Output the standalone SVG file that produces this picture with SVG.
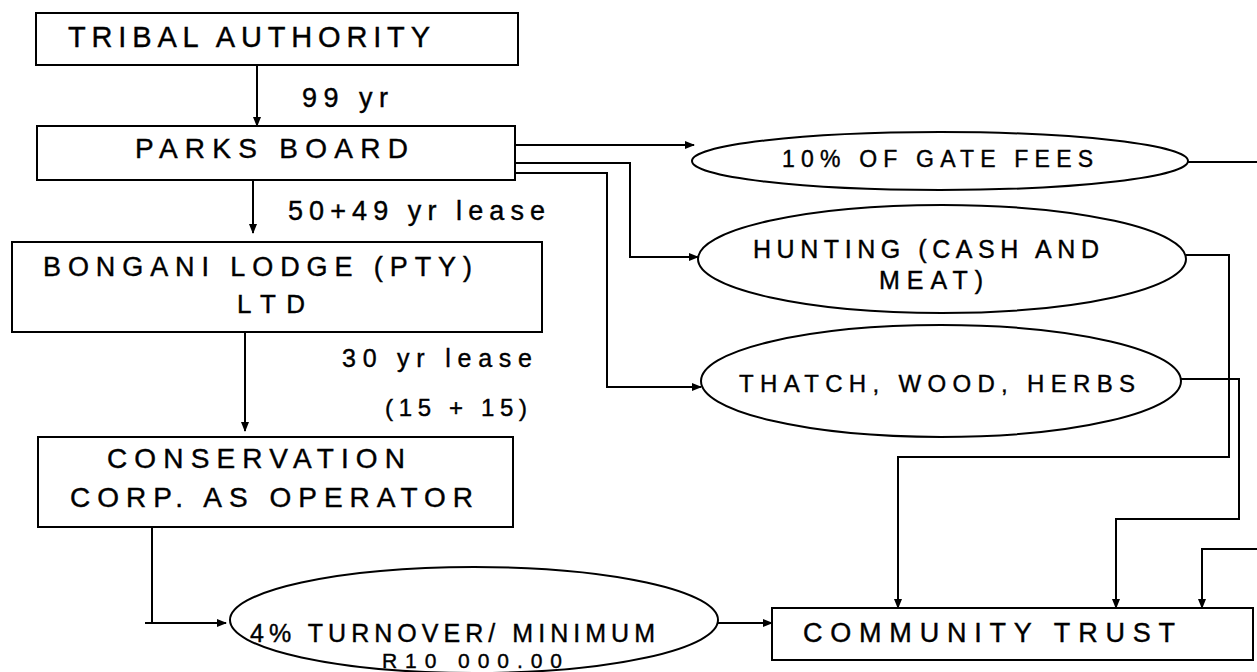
<svg xmlns="http://www.w3.org/2000/svg" width="1257" height="672" viewBox="0 0 1257 672">
<defs>
<style>
.box{fill:#fff;stroke:#000;stroke-width:2}
.conn{fill:none;stroke:#000;stroke-width:2}
.t{font-family:"Liberation Sans",Arial,sans-serif;fill:#000;stroke:#000;stroke-width:0.4}
</style>
<marker id="arr" markerWidth="10" markerHeight="8" refX="9" refY="4" orient="auto" markerUnits="userSpaceOnUse"><path d="M0,0 L10,4 L0,8 z" fill="#000"/></marker>
</defs>
<rect width="1257" height="672" fill="#fff"/>
<g id="connectors" class="conn" marker-end="url(#arr)">
<path d="M257,65 V126"/>
<path d="M253,180 V233"/>
<path d="M245,332 V431"/>
<path d="M152,527 V623 M145,623 H226"/>
<path d="M718,623 H772"/>
<path d="M515,145 H694"/>
<path d="M515,163 H630 V257 H698"/>
<path d="M515,173 H607 V387 H701"/>
<path d="M1188,162 H1257" marker-end="none"/>
<path d="M1186,255 H1229 V457 H898 V608"/>
<path d="M1181,379 H1239 V519 H1116 V608"/>
<path d="M1257,549 H1202 V608"/>
</g>
<g id="tribal">
<rect class="box" x="36" y="13" width="482" height="52"/>
<text class="t" x="68" y="47" font-size="29" textLength="362" lengthAdjust="spacing">TRIBAL AUTHORITY</text>
</g>
<text class="t" x="302" y="107" font-size="27" textLength="86" lengthAdjust="spacing">99 yr</text>
<g id="parks">
<rect class="box" x="37" y="126" width="478" height="54"/>
<text class="t" x="135" y="158" font-size="28" textLength="273" lengthAdjust="spacing">PARKS BOARD</text>
</g>
<text class="t" x="288" y="220" font-size="27" textLength="257" lengthAdjust="spacing">50+49 yr lease</text>
<g id="bongani">
<rect class="box" x="12" y="242" width="530" height="90"/>
<text class="t" x="43" y="276" font-size="27" textLength="429" lengthAdjust="spacing">BONGANI LODGE (PTY)</text>
<text class="t" x="237" y="313" font-size="26" textLength="68" lengthAdjust="spacing">LTD</text>
</g>
<text class="t" x="342" y="367" font-size="25" textLength="190" lengthAdjust="spacing">30 yr lease</text>
<text class="t" x="385" y="416" font-size="24" textLength="142" lengthAdjust="spacing">(15 + 15)</text>
<g id="conservation">
<rect class="box" x="38" y="437" width="475" height="90"/>
<text class="t" x="107" y="468" font-size="28" textLength="298" lengthAdjust="spacing">CONSERVATION</text>
<text class="t" x="70" y="507" font-size="28" textLength="403" lengthAdjust="spacing">CORP. AS OPERATOR</text>
</g>
<g id="gatefees">
<ellipse class="box" cx="940" cy="161" rx="248" ry="29"/>
<text class="t" x="782" y="167" font-size="23" textLength="311" lengthAdjust="spacing">10% OF GATE FEES</text>
</g>
<g id="hunting">
<ellipse class="box" cx="942" cy="259" rx="244" ry="54"/>
<text class="t" x="753" y="258" font-size="25" textLength="346" lengthAdjust="spacing">HUNTING (CASH AND</text>
<text class="t" x="879" y="289" font-size="25" textLength="104" lengthAdjust="spacing">MEAT)</text>
</g>
<g id="thatch">
<ellipse class="box" cx="941" cy="381" rx="240" ry="56"/>
<text class="t" x="739" y="392" font-size="24" textLength="396" lengthAdjust="spacing">THATCH, WOOD, HERBS</text>
</g>
<g id="turnover">
<ellipse class="box" cx="474" cy="620" rx="244" ry="53"/>
<text class="t" x="250" y="642" font-size="25" textLength="405" lengthAdjust="spacing">4% TURNOVER/ MINIMUM</text>
<text class="t" x="382" y="668" font-size="21" textLength="180" lengthAdjust="spacing">R10 000.00</text>
</g>
<g id="community">
<rect class="box" x="772" y="608" width="481" height="52"/>
<text class="t" x="803" y="642" font-size="27" textLength="372" lengthAdjust="spacing">COMMUNITY TRUST</text>
</g>
</svg>
